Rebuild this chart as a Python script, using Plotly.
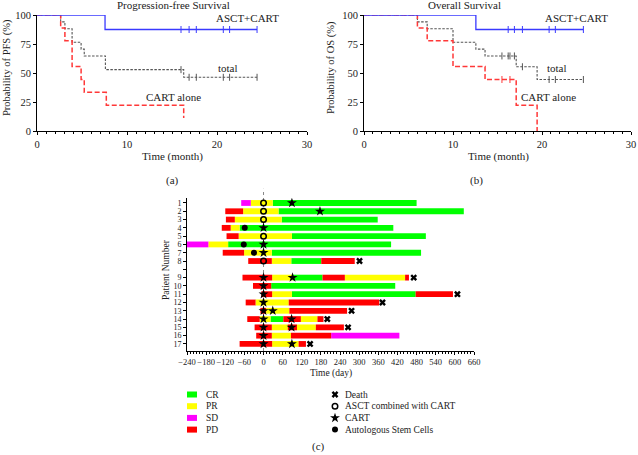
import plotly.graph_objects as go

W, H = 638, 455
FONT = "Liberation Serif"
TXT = "#222222"

# ---------------- Kaplan-Meier data (months, %) ----------------
pfs_asct_t = [0, 7.56, 24.45]
pfs_asct_s = [100, 87.5, 87.5]
pfs_asct_cens_t = [16.0, 16.9, 17.7, 20.7, 21.4, 24.45]
pfs_asct_cens_s = [87.5, 87.5, 87.5, 87.5, 87.5, 87.5]

pfs_cart_t = [0, 2.63, 3.1, 3.9, 4.9, 5.25, 7.7, 16.3]
pfs_cart_s = [100, 88.9, 77.8, 55.6, 44.4, 33.3, 22.2, 11.1]

pfs_total_t = [0, 2.63, 3.1, 3.9, 4.9, 5.25, 7.6, 16.3, 24.45]
pfs_total_s = [100, 94.1, 88.2, 76.5, 70.6, 64.7, 52.9, 46.3, 46.3]
pfs_total_cens_t = [16.0, 16.9, 17.7, 20.7, 21.4, 24.45]
pfs_total_cens_s = [52.9, 46.3, 46.3, 46.3, 46.3, 46.3]

os_asct_t = [0, 12.57, 24.65]
os_asct_s = [100, 87.5, 87.5]
os_asct_cens_t = [16.2, 16.9, 17.8, 20.8, 21.5, 24.65]
os_asct_cens_s = [87.5, 87.5, 87.5, 87.5, 87.5, 87.5]

os_cart_t = [0, 6.0, 7.1, 10.0, 13.6, 17.1, 19.45]
os_cart_s = [100, 88.9, 77.8, 55.6, 44.4, 22.2, 0]
os_cart_cens_t = [15.5, 16.4]
os_cart_cens_s = [44.4, 44.4]

os_total_t = [0, 6.0, 7.1, 10.0, 12.57, 13.6, 17.1, 19.45, 24.65]
os_total_s = [100, 94.1, 88.2, 76.5, 70.6, 64.7, 55.4, 44.4, 44.4]
os_total_cens_t = [15.5, 16.2, 16.4, 16.9, 17.8, 20.8, 21.5, 24.65]
os_total_cens_s = [64.7, 64.7, 64.7, 64.7, 55.4, 44.4, 44.4, 44.4]

km_ticks = [0, 10, 20, 30]
km_yticks = [0, 25, 50, 75, 100]

# ---------------- Swimmer data (days) ----------------
patients = list(range(1, 18))
seg_patient = [1, 1, 1,
               2, 2, 2,
               3, 3, 3,
               4, 4, 4,
               5, 5, 5,
               6, 6, 6,
               7, 7, 7,
               8, 8, 8, 8,
               9, 9, 9, 9, 9, 9,
               10, 10,
               11, 11, 11, 11,
               12, 12, 12,
               13, 13, 13,
               14, 14, 14, 14, 14, 14,
               15, 15, 15, 15, 15,
               16, 16, 16, 16,
               17, 17, 17]
seg_start = [-70, -40, 29,
             -120, -64, 47,
             -118, -90, 57,
             -131, -103, -75,
             -116, -78, 89,
             -240, -173, -111,
             -128, -61, 26,
             -48, 26, 87, 181,
             -66, 27, 91, 185, 255, 444,
             -33, 24,
             -7, 27, 89, 477,
             -56, -25, 79,
             -10, 8, 81,
             -51, -12, 22, 62, 117, 169,
             -28, 26, 76, 105, 164,
             -23, 26, 86, 212,
             -75, 27, 110]
seg_end = [-40, 29, 480,
           -64, 47, 628,
           -90, 57, 358,
           -103, -75, 407,
           -78, 89, 509,
           -173, -111, 400,
           -61, 26, 494,
           26, 87, 181, 286,
           27, 91, 185, 255, 444, 456,
           24, 413,
           27, 89, 477, 594,
           -25, 79, 363,
           8, 81, 262,
           -12, 22, 62, 117, 169, 188,
           26, 76, 105, 164, 252,
           26, 86, 212, 426,
           27, 110, 133]
seg_status = ["SD", "PR", "CR",
              "PD", "PR", "CR",
              "PD", "PR", "CR",
              "PD", "PR", "CR",
              "PD", "PR", "CR",
              "SD", "PR", "CR",
              "PD", "PR", "CR",
              "PD", "PR", "CR", "PD",
              "PD", "PR", "CR", "PD", "PR", "PD",
              "PD", "CR",
              "PD", "PR", "CR", "PD",
              "PD", "PR", "PD",
              "PD", "PR", "PD",
              "PD", "PR", "CR", "PD", "PR", "PD",
              "PD", "PR", "PD", "PR", "PD",
              "PD", "PR", "PD", "SD",
              "PD", "PR", "PD"]

death_patient = [8, 9, 11, 12, 13, 14, 15, 17]
death_day = [301, 471, 608, 373, 276, 200, 265, 146]

asct_patient = [1, 2, 3, 5, 8]
asct_day = [0, 0, 0, 0, 0]

cart_patient = [4, 6, 7, 9, 10, 11, 12, 13, 14, 15, 16, 17, 1, 2, 9, 13, 14, 15, 17]
cart_day = [0, 0, 0, 0, 0, 0, 0, 0, 0, 0, 0, 0, 89, 177, 91, 29, 88, 88, 89]

stem_patient = [4, 6, 7]
stem_day = [-59, -62, -30]

status_names = ["CR", "PR", "SD", "PD"]
status_colors = {"CR": "#00ff00", "PR": "#ffff00", "SD": "#ff00ff", "PD": "#ff0000"}
day_ticks = list(range(-240, 661, 60))

marker_names = ["Death", "ASCT combined with CART", "CART", "Autologous Stem Cells"]


def pos(p):
    # row index on the swimmer axis (gap after patient 8)
    return p if p <= 8 else p + 1


def px(x):
    return x / W


def py(y):
    return 1 - y / H


BLUE = "#3a3aff"
RED = "#ff3838"
GRAY = "#555555"
RED_DASH = "5px,2.5px"
GRAY_DASH = "2.5px,1.5px"

fig = go.Figure()


def km(xa, ya, t, s, color, dash, width):
    fig.add_trace(go.Scatter(x=t, y=s, mode="lines", line=dict(color=color, dash=dash, width=width, shape="hv"),
                             xaxis=xa, yaxis=ya, hoverinfo="skip"))


def cens(xa, ya, t, s, color):
    fig.add_trace(go.Scatter(x=t, y=s, mode="markers",
                             marker=dict(symbol="line-ns", size=5, line=dict(width=1, color=color)),
                             xaxis=xa, yaxis=ya, hoverinfo="skip"))


km("x", "y", pfs_total_t, pfs_total_s, GRAY, GRAY_DASH, 1.1)
cens("x", "y", pfs_total_cens_t, pfs_total_cens_s, GRAY)
km("x", "y", pfs_cart_t, pfs_cart_s, RED, RED_DASH, 1.5)
km("x", "y", pfs_asct_t, pfs_asct_s, BLUE, "solid", 1.3)
cens("x", "y", pfs_asct_cens_t, pfs_asct_cens_s, BLUE)

km("x2", "y2", os_total_t, os_total_s, GRAY, GRAY_DASH, 1.1)
cens("x2", "y2", os_total_cens_t, os_total_cens_s, GRAY)
km("x2", "y2", os_cart_t, os_cart_s, RED, RED_DASH, 1.5)
cens("x2", "y2", os_cart_cens_t, os_cart_cens_s, RED)
km("x2", "y2", os_asct_t, os_asct_s, BLUE, "solid", 1.3)
cens("x2", "y2", os_asct_cens_t, os_asct_cens_s, BLUE)

# swimmer bars
for st in status_names:
    idx = [i for i, s in enumerate(seg_status) if s == st]
    fig.add_trace(go.Bar(
        y=[pos(seg_patient[i]) for i in idx],
        x=[seg_end[i] - seg_start[i] for i in idx],
        base=[seg_start[i] for i in idx],
        orientation="h", width=0.7,
        marker=dict(color=status_colors[st], line=dict(width=0)),
        xaxis="x3", yaxis="y3", name=st, hoverinfo="skip"))

shapes = [dict(type="line", xref="x3", yref="y3 domain", x0=0, x1=0, y0=0, y1=1.06,
               line=dict(color="#888888", width=1, dash="dot"), layer="below")]

M_DEATH = dict(symbol="x", size=6, color="black", line=dict(width=0))
M_ASCT = dict(symbol="circle-open", size=5.5, color="black", line=dict(width=1.5, color="black"))
M_CART = dict(symbol="star", size=7.5, color="black", line=dict(width=0))
M_STEM = dict(symbol="circle", size=6, color="black", line=dict(width=0))

fig.add_trace(go.Scatter(x=death_day, y=[pos(p) for p in death_patient], mode="markers", marker=M_DEATH,
                         xaxis="x3", yaxis="y3", hoverinfo="skip"))
fig.add_trace(go.Scatter(x=asct_day, y=[pos(p) for p in asct_patient], mode="markers", marker=M_ASCT,
                         xaxis="x3", yaxis="y3", hoverinfo="skip"))
fig.add_trace(go.Scatter(x=cart_day, y=[pos(p) for p in cart_patient], mode="markers", marker=M_CART,
                         xaxis="x3", yaxis="y3", hoverinfo="skip"))
fig.add_trace(go.Scatter(x=stem_day, y=[pos(p) for p in stem_patient], mode="markers", marker=M_STEM,
                         xaxis="x3", yaxis="y3", hoverinfo="skip"))

# legend (drawn on a pixel overlay axis)
leg_rows = [394.5, 406.2, 417.9, 429.6]
annotations = []
for i, st in enumerate(status_names):
    y0 = leg_rows[i]
    shapes.append(dict(type="rect", xref="paper", yref="paper", x0=px(187), x1=px(197),
                       y0=py(y0 + 3), y1=py(y0 - 3), fillcolor=status_colors[st], line=dict(width=0)))
    annotations.append(dict(x=px(204), y=py(y0), xref="paper", yref="paper", text=st, showarrow=False,
                            xanchor="left", yanchor="middle", font=dict(size=9.5, family=FONT, color=TXT)))
sym_specs = [M_DEATH, M_ASCT, M_CART, M_STEM]
for i, name in enumerate(marker_names):
    fig.add_trace(go.Scatter(x=[335], y=[leg_rows[i]], mode="markers", marker=sym_specs[i],
                             xaxis="x4", yaxis="y4", hoverinfo="skip"))
    annotations.append(dict(x=px(343), y=py(leg_rows[i]), xref="paper", yref="paper", text=name, showarrow=False,
                            xanchor="left", yanchor="middle", font=dict(size=9.5, family=FONT, color=TXT)))


def ann(x, y, text, size=11, angle=0, xanchor="center"):
    annotations.append(dict(x=px(x), y=py(y), xref="paper", yref="paper", text=text, showarrow=False,
                            xanchor=xanchor, yanchor="middle", textangle=angle,
                            font=dict(size=size, family=FONT, color=TXT)))


ann(173, 5, "Progression-free Survival", 11)
ann(464, 5, "Overall Survival", 11)
ann(248, 18, "ASCT+CART", 11)
ann(228, 68, "total", 11)
ann(173, 97, "CART alone", 11)
ann(576, 18, "ASCT+CART", 11)
ann(557, 68, "total", 11)
ann(548, 97, "CART alone", 11)
ann(7, 68, "Probability of PFS (%)", 10.5, -90)
ann(331, 68, "Probability of OS (%)", 10.5, -90)
ann(172, 156, "Time (month)", 11)
ann(498, 156, "Time (month)", 11)
ann(172, 181, "(a)", 11)
ann(476, 181, "(b)", 11)
ann(331, 373, "Time (day)", 9.5)
ann(166, 270, "Patient Number", 9.5, -90)
ann(318, 446, "(c)", 11)

axis_common = dict(showline=True, linecolor="black", linewidth=1, ticks="outside", ticklen=3,
                   tickcolor="black", showgrid=False, zeroline=False, automargin=False,
                   tickfont=dict(size=10.5, family=FONT, color=TXT))

km_x = dict(axis_common, range=[0, 30], tickvals=km_ticks,
            minor=dict(dtick=1, ticks="outside", ticklen=2, tickcolor="black", showgrid=False))
km_y = dict(axis_common, range=[0, 100], tickvals=km_yticks)

fig.update_layout(
    width=W, height=H, margin=dict(l=0, r=0, t=0, b=0, pad=0),
    paper_bgcolor="white", plot_bgcolor="rgba(0,0,0,0)",
    showlegend=False, barmode="overlay",
    font=dict(family=FONT, color=TXT),
    xaxis=dict(km_x, domain=[px(37), px(307)], anchor="y"),
    yaxis=dict(km_y, domain=[py(131), py(15)], anchor="x"),
    xaxis2=dict(km_x, domain=[px(364), px(631)], anchor="y2"),
    yaxis2=dict(km_y, domain=[py(131), py(15)], anchor="x2"),
    xaxis3=dict(axis_common, range=[-240, 660], tickvals=day_ticks, domain=[px(187), px(474)], anchor="y3",
                tickangle=0, tickfont=dict(size=8.5, family=FONT, color=TXT),
                minor=dict(dtick=10, ticks="outside", ticklen=2, tickcolor="black", showgrid=False)),
    yaxis3=dict(axis_common, range=[18.85, 0.4], tickvals=[pos(p) for p in patients] + [9],
                ticktext=[str(p) for p in patients] + [""], domain=[py(351), py(198)], anchor="x3",
                tickfont=dict(size=8, family=FONT, color=TXT)),
    xaxis4=dict(range=[0, W], domain=[0, 1], visible=False, anchor="y4", fixedrange=True, automargin=False),
    yaxis4=dict(range=[H, 0], domain=[0, 1], visible=False, anchor="x4", fixedrange=True, automargin=False),
    annotations=annotations, shapes=shapes,
)

fig.write_html("out.html", config={"displayModeBar": False},
               post_script="document.body.style.margin='0';document.body.style.overflow='hidden';")
